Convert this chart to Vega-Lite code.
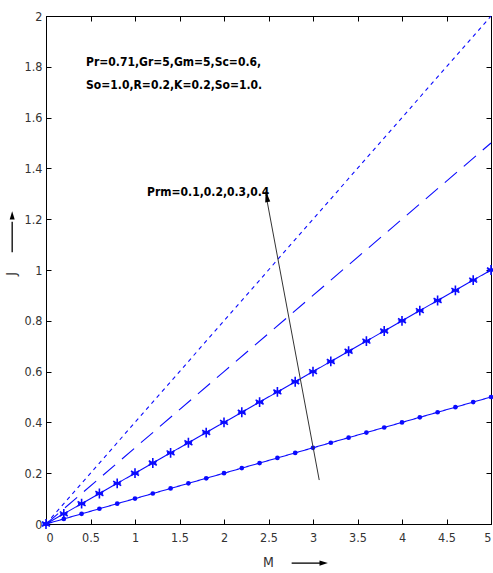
{
  "$schema": "https://vega.github.io/schema/vega-lite/v6.json",
  "width": 445,
  "height": 508,
  "autosize": "none",
  "padding": {"left": 46, "top": 16, "right": 2, "bottom": 49},
  "background": "white",
  "config": {
    "view": {"stroke": "black", "strokeWidth": 1},
    "axis": {
      "grid": false,
      "domainColor": "black",
      "tickColor": "black",
      "tickSize": -5,
      "labelFont": "'Liberation Sans Narrow', 'DejaVu Sans Condensed', 'Liberation Sans', sans-serif",
      "labelFontSize": 12.5,
      "labelColor": "#333",
      "title": null
    }
  },
  "datasets": {
    "curves": [
      {"s": "0.1", "M": 0, "J": 0}, {"s": "0.1", "M": 0.2, "J": 0.02}, {"s": "0.1", "M": 0.4, "J": 0.04}, {"s": "0.1", "M": 0.6, "J": 0.06}, {"s": "0.1", "M": 0.8, "J": 0.08}, {"s": "0.1", "M": 1.0, "J": 0.10}, {"s": "0.1", "M": 1.2, "J": 0.12}, {"s": "0.1", "M": 1.4, "J": 0.14}, {"s": "0.1", "M": 1.6, "J": 0.16}, {"s": "0.1", "M": 1.8, "J": 0.18}, {"s": "0.1", "M": 2.0, "J": 0.20}, {"s": "0.1", "M": 2.2, "J": 0.22}, {"s": "0.1", "M": 2.4, "J": 0.24}, {"s": "0.1", "M": 2.6, "J": 0.26}, {"s": "0.1", "M": 2.8, "J": 0.28}, {"s": "0.1", "M": 3.0, "J": 0.30}, {"s": "0.1", "M": 3.2, "J": 0.32}, {"s": "0.1", "M": 3.4, "J": 0.34}, {"s": "0.1", "M": 3.6, "J": 0.36}, {"s": "0.1", "M": 3.8, "J": 0.38}, {"s": "0.1", "M": 4.0, "J": 0.40}, {"s": "0.1", "M": 4.2, "J": 0.42}, {"s": "0.1", "M": 4.4, "J": 0.44}, {"s": "0.1", "M": 4.6, "J": 0.46}, {"s": "0.1", "M": 4.8, "J": 0.48}, {"s": "0.1", "M": 5.0, "J": 0.50},
      {"s": "0.2", "M": 0, "J": 0}, {"s": "0.2", "M": 0.2, "J": 0.04}, {"s": "0.2", "M": 0.4, "J": 0.08}, {"s": "0.2", "M": 0.6, "J": 0.12}, {"s": "0.2", "M": 0.8, "J": 0.16}, {"s": "0.2", "M": 1.0, "J": 0.20}, {"s": "0.2", "M": 1.2, "J": 0.24}, {"s": "0.2", "M": 1.4, "J": 0.28}, {"s": "0.2", "M": 1.6, "J": 0.32}, {"s": "0.2", "M": 1.8, "J": 0.36}, {"s": "0.2", "M": 2.0, "J": 0.40}, {"s": "0.2", "M": 2.2, "J": 0.44}, {"s": "0.2", "M": 2.4, "J": 0.48}, {"s": "0.2", "M": 2.6, "J": 0.52}, {"s": "0.2", "M": 2.8, "J": 0.56}, {"s": "0.2", "M": 3.0, "J": 0.60}, {"s": "0.2", "M": 3.2, "J": 0.64}, {"s": "0.2", "M": 3.4, "J": 0.68}, {"s": "0.2", "M": 3.6, "J": 0.72}, {"s": "0.2", "M": 3.8, "J": 0.76}, {"s": "0.2", "M": 4.0, "J": 0.80}, {"s": "0.2", "M": 4.2, "J": 0.84}, {"s": "0.2", "M": 4.4, "J": 0.88}, {"s": "0.2", "M": 4.6, "J": 0.92}, {"s": "0.2", "M": 4.8, "J": 0.96}, {"s": "0.2", "M": 5.0, "J": 1.00},
      {"s": "0.3", "M": 0, "J": 0}, {"s": "0.3", "M": 1.0, "J": 0.30}, {"s": "0.3", "M": 2.0, "J": 0.60}, {"s": "0.3", "M": 3.0, "J": 0.90}, {"s": "0.3", "M": 4.0, "J": 1.20}, {"s": "0.3", "M": 5.0, "J": 1.50},
      {"s": "0.4", "M": 0, "J": 0}, {"s": "0.4", "M": 1.0, "J": 0.40}, {"s": "0.4", "M": 2.0, "J": 0.80}, {"s": "0.4", "M": 3.0, "J": 1.20}, {"s": "0.4", "M": 4.0, "J": 1.60}, {"s": "0.4", "M": 5.0, "J": 2.00}
    ],
    "notes": [
      {"M": 0.45, "J": 1.819, "t": "Pr=0.71,Gr=5,Gm=5,Sc=0.6,"},
      {"M": 0.45, "J": 1.728, "t": "So=1.0,R=0.2,K=0.2,So=1.0."},
      {"M": 1.135, "J": 1.307, "t": "Prm=0.1,0.2,0.3,0.4"}
    ],
    "arrow": [
      {"M": 3.07, "J": 0.173, "M2": 2.485, "J2": 1.27}
    ],
    "arrowhead": [
      {"M": 2.48, "J": 1.29}
    ],
    "titles": [
      {"M": 2.5, "J": -0.155, "t": "M", "a": 0},
      {"M": -0.38, "J": 0.985, "t": "J", "a": 270}
    ],
    "titlearrows": [
      {"M": 2.76, "J": -0.154, "M2": 3.08, "J2": -0.154},
      {"M": -0.38, "J": 1.07, "M2": -0.38, "J2": 1.19}
    ],
    "titleheads": [
      {"M": 3.12, "J": -0.154, "a": 90},
      {"M": -0.38, "J": 1.215, "a": 0}
    ]
  },
  "resolve": {"axis": {"x": "independent", "y": "independent"}},
  "layer": [
    {
      "data": {"name": "curves"},
      "mark": {"type": "line", "color": "#0a0aff", "strokeWidth": 1.1},
      "encoding": {
        "x": {"field": "M", "type": "quantitative", "scale": {"domain": [0, 5], "nice": false},
              "axis": {"values": [0, 0.5, 1, 1.5, 2, 2.5, 3, 3.5, 4, 4.5, 5], "format": "~g", "labelPadding": 12}},
        "y": {"field": "J", "type": "quantitative", "scale": {"domain": [0, 2], "nice": false},
              "axis": {"values": [0, 0.2, 0.4, 0.6, 0.8, 1, 1.2, 1.4, 1.6, 1.8, 2], "format": "~g", "labelPadding": 9}},
        "detail": {"field": "s"},
        "strokeDash": {"field": "s", "type": "nominal", "legend": null,
                       "scale": {"domain": ["0.1", "0.2", "0.3", "0.4"], "range": [[1, 0], [1, 0], [16, 9], [4, 4]]}}
      }
    },
    {
      "data": {"name": "curves"},
      "transform": [{"filter": "datum.s === '0.1'"}],
      "mark": {"type": "point", "shape": "circle", "filled": true, "color": "#0a0aff", "size": 22, "opacity": 1},
      "encoding": {
        "x": {"field": "M", "type": "quantitative", "axis": null},
        "y": {"field": "J", "type": "quantitative", "axis": null}
      }
    },
    {
      "data": {"name": "curves"},
      "transform": [{"filter": "datum.s === '0.2'"}],
      "mark": {"type": "point", "shape": "M0,-1.1L0,1.1M-0.9,-0.5L0.9,0.5M-0.9,0.5L0.9,-0.5M-0.8,0L0.8,0", "filled": false, "color": "#0a0aff", "strokeWidth": 1.6, "size": 80, "opacity": 1},
      "encoding": {
        "x": {"field": "M", "type": "quantitative", "axis": null},
        "y": {"field": "J", "type": "quantitative", "axis": null}
      }
    },
    {
      "data": {"name": "notes"},
      "mark": {"type": "text", "align": "left", "baseline": "middle", "font": "'Liberation Sans Narrow', 'DejaVu Sans Condensed', 'Liberation Sans', sans-serif", "fontWeight": "bold", "fontSize": 12, "color": "black"},
      "encoding": {
        "x": {"field": "M", "type": "quantitative", "axis": null},
        "y": {"field": "J", "type": "quantitative", "axis": null},
        "text": {"field": "t"}
      }
    },
    {
      "data": {"name": "arrow"},
      "mark": {"type": "rule", "color": "#333", "strokeWidth": 1},
      "encoding": {
        "x": {"field": "M", "type": "quantitative", "axis": null},
        "y": {"field": "J", "type": "quantitative", "axis": null},
        "x2": {"field": "M2"},
        "y2": {"field": "J2"}
      }
    },
    {
      "data": {"name": "arrowhead"},
      "mark": {"type": "point", "shape": "M0,-1L0.45,1L-0.45,1Z", "filled": true, "color": "black", "size": 130, "angle": 349.7, "opacity": 1},
      "encoding": {
        "x": {"field": "M", "type": "quantitative", "axis": null},
        "y": {"field": "J", "type": "quantitative", "axis": null}
      }
    },
    {
      "data": {"name": "titles"},
      "mark": {"type": "text", "align": "center", "baseline": "middle", "font": "'Liberation Sans Narrow', 'DejaVu Sans Condensed', 'Liberation Sans', sans-serif", "fontSize": 14, "color": "#333"},
      "encoding": {
        "x": {"field": "M", "type": "quantitative", "axis": null},
        "y": {"field": "J", "type": "quantitative", "axis": null},
        "text": {"field": "t"},
        "angle": {"field": "a", "type": "quantitative", "scale": null}
      }
    },
    {
      "data": {"name": "titlearrows"},
      "mark": {"type": "rule", "color": "black", "strokeWidth": 1.3},
      "encoding": {
        "x": {"field": "M", "type": "quantitative", "axis": null},
        "y": {"field": "J", "type": "quantitative", "axis": null},
        "x2": {"field": "M2"},
        "y2": {"field": "J2"}
      }
    },
    {
      "data": {"name": "titleheads"},
      "mark": {"type": "point", "shape": "M0,-1L0.6,1L-0.6,1Z", "filled": true, "color": "black", "size": 70, "opacity": 1},
      "encoding": {
        "x": {"field": "M", "type": "quantitative", "axis": null},
        "y": {"field": "J", "type": "quantitative", "axis": null},
        "angle": {"field": "a", "type": "quantitative", "scale": null}
      }
    },
    {
      "data": {"values": [{"M": 0, "J": 0}]},
      "mark": {"type": "point", "opacity": 0},
      "encoding": {
        "x": {"field": "M", "type": "quantitative", "axis": {"orient": "top", "labels": false, "values": [0, 0.5, 1, 1.5, 2, 2.5, 3, 3.5, 4, 4.5, 5]}},
        "y": {"field": "J", "type": "quantitative", "axis": {"orient": "right", "labels": false, "values": [0, 0.2, 0.4, 0.6, 0.8, 1, 1.2, 1.4, 1.6, 1.8, 2]}}
      }
    }
  ]
}
